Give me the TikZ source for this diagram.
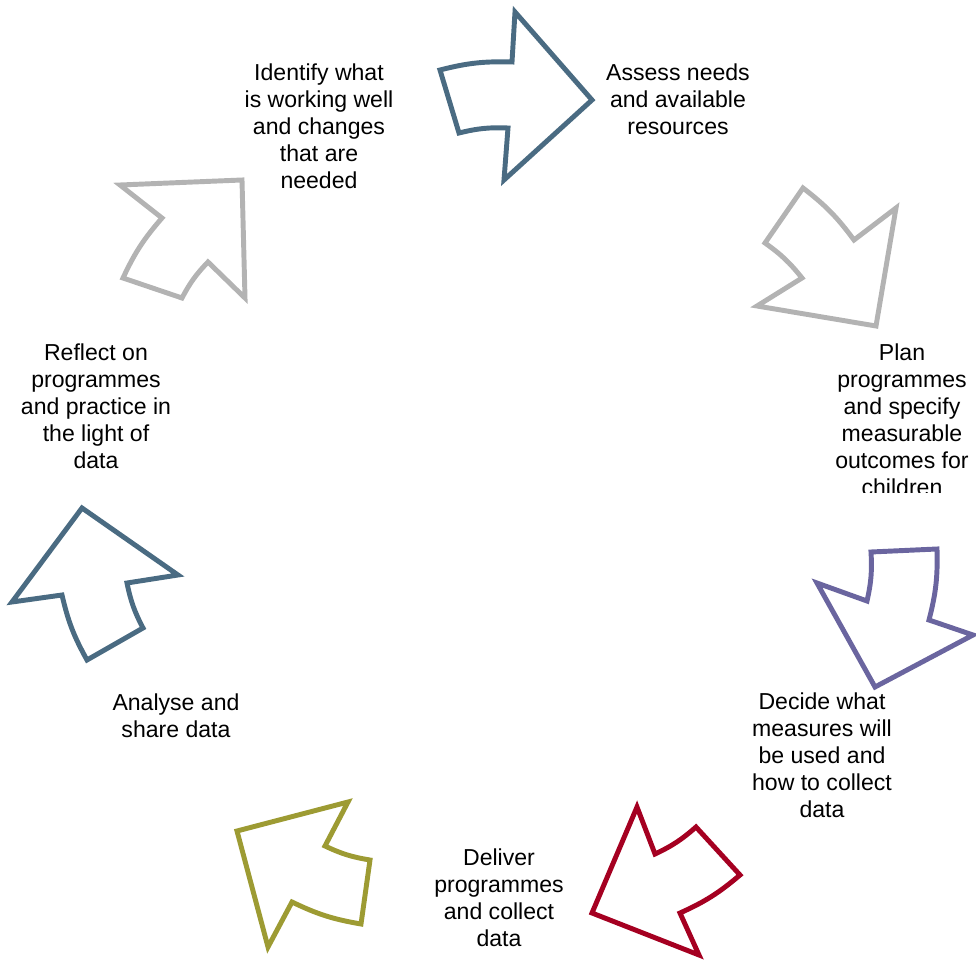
\documentclass[tikz,border=0pt]{standalone}
\usepackage{fontspec}
\setmainfont{Liberation Sans}
\definecolor{slate}{HTML}{4A6B82}
\definecolor{lgray}{HTML}{B3B3B3}
\definecolor{violet2}{HTML}{6A659F}
\definecolor{crimson}{HTML}{A50021}
\definecolor{olive2}{HTML}{9D9B33}
\begin{document}
\begin{tikzpicture}[x=0.75pt,y=0.75pt,
  arr/.style={line width=3.7pt, line join=miter},
  lbl/.style={font=\fontsize{17.3}{20.25}\selectfont, align=center, inner sep=0pt}]
\useasboundingbox (0,0) rectangle (976,-963);
% arrows
\draw[arr,slate] (440,-70) to[bend left=8] (512,-62) -- (515,-12) -- (592,-100) -- (504,-180) -- (508,-128) to[bend right=8] (459,-133) -- cycle;
\draw[arr,lgray] (803,-188) to[bend left=8] (854,-240) -- (896,-208) -- (876,-326) -- (757,-306) -- (802,-278) to[bend right=8] (765,-243) -- cycle;
\draw[arr,violet2] (867,-601) to[bend right=8] (871,-552) -- (937,-549) to[bend left=8] (929,-620) -- (973,-635) -- (875,-687) -- (817,-583) -- cycle;
\draw[arr,crimson] (637,-807) -- (655,-854) to[bend right=8] (696,-827) -- (740,-875) to[bend left=8] (680,-913) -- (699,-955) -- (592,-913) -- cycle;
\draw[arr,olive2] (348,-802) -- (325,-846) to[bend right=8] (370,-860) -- (361,-924) to[bend left=8] (292,-902) -- (268,-947) -- (237,-831) -- cycle;
\draw[arr,slate] (82,-508) -- (178,-575) -- (127,-583) to[bend right=8] (143,-628) -- (87,-660) to[bend left=8] (62,-595) -- (12,-602) -- cycle;
\draw[arr,lgray] (120,-185) -- (242,-180) -- (245,-298) -- (208,-262) to[bend right=8] (182,-298) -- (123,-278) to[bend left=8] (162,-218) -- cycle;
% labels
\node[lbl] (assess) at (678,-99) {Assess needs\\and available\\resources};
\begin{scope}
\clip (800,-300) rectangle (976,-492);
\node[lbl] (plan) at (902,-419.5) {Plan\\programmes\\and specify\\measurable\\outcomes for\\children};
\end{scope}
\node[lbl] (decide) at (822,-755) {Decide what\\measures will\\be used and\\how to collect\\data};
\node[lbl] (deliver) at (499,-898) {Deliver\\programmes\\and collect\\data};
\node[lbl] (analyse) at (176,-715.5) {Analyse and\\share data};
\node[lbl] (reflect) at (96,-406.5) {Reflect on\\programmes\\and practice in\\the light of\\data};
\node[lbl] (identify) at (319,-126) {Identify what\\is working well\\and changes\\that are\\needed};
\end{tikzpicture}
\end{document}
